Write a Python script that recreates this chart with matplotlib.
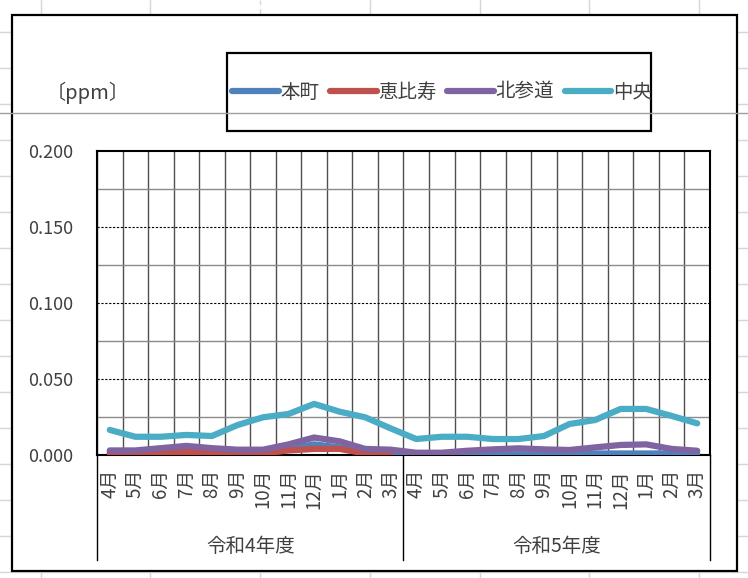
import numpy as np
import matplotlib.pyplot as plt
from matplotlib.lines import Line2D
from matplotlib.patches import Rectangle
import matplotlib.transforms as mtransforms

plt.rcParams['font.family'] = ['Noto Sans CJK JP', 'DejaVu Sans']

# ---------------- data ----------------
months = ['4月', '5月', '6月', '7月', '8月', '9月', '10月', '11月', '12月', '1月', '2月', '3月']
years = ['令和4年度', '令和5年度']
unit_label = '〔ppm〕'

honmachi = [0.002, 0.002, 0.002, 0.004, 0.002, 0.002, 0.002, 0.004, 0.007, 0.005, 0.002, 0.002,
            0.0005, 0.0005, 0.0005, 0.0005, 0.0005, 0.0005, 0.001, 0.001, 0.001, 0.001, 0.001, 0.001]
ebisu = [0.001, 0.001, 0.001, 0.002, 0.001, 0.001, 0.001, 0.003, 0.004, 0.004, 0.001, 0.001,
         np.nan, np.nan, np.nan, np.nan, np.nan, np.nan, np.nan, np.nan, np.nan, np.nan, np.nan, np.nan]
kitasando = [0.003, 0.003, 0.0045, 0.006, 0.0045, 0.0035, 0.0035, 0.007, 0.0115, 0.009, 0.004, 0.0035,
             0.0015, 0.0015, 0.0028, 0.0037, 0.0044, 0.0037, 0.0033, 0.005, 0.0066, 0.007, 0.004, 0.0028]
chuo = [0.0165, 0.012, 0.012, 0.0132, 0.0125, 0.0197, 0.0248, 0.027, 0.0336, 0.0285, 0.0248, 0.0175,
        0.0105, 0.012, 0.012, 0.0105, 0.0105, 0.0125, 0.0204, 0.023, 0.0303, 0.0303, 0.0257, 0.0208]

series_names = ['本町', '恵比寿', '北参道', '中央']
series_values = [honmachi, ebisu, kitasando, chuo]
series_colors = ['#4F81BD', '#C0504D', '#8064A2', '#4BACC6']

# ---------------- figure ----------------
W, H = 748, 578
fig = plt.figure(figsize=(W / 100, H / 100), dpi=100)
fig.patch.set_facecolor('white')


def fx(px):
    return px / W


def fy(py):
    return 1 - py / H


# spreadsheet background grid
for xs in [41, 150, 260, 370, 480, 589, 699]:
    fig.add_artist(Line2D([fx(xs)] * 2, [0, 1], color='#d6d6d6', lw=1,
                          ls=(0, (4, 3)) if xs == 260 else '-', zorder=0))
for ys in np.arange(32, 578, 36):
    fig.add_artist(Line2D([0, 1], [fy(ys)] * 2, color='#d6d6d6', lw=1, zorder=0))

# chart frame
fig.add_artist(Rectangle((fx(12), fy(571)), fx(737) - fx(12), fy(15) - fy(571),
                         facecolor='white', edgecolor='black', lw=1.6, zorder=1))

# plot area
ax = fig.add_axes([fx(97), fy(455), fx(710) - fx(97), fy(151) - fy(455)])
ax.set_zorder(2)
n = len(months) * len(years)
x = np.arange(n)

for b in np.arange(-0.5, n, 1.0):
    ax.axvline(b, color='#505050', lw=1, zorder=1)
for v in [0.025, 0.075, 0.125, 0.175]:
    ax.axhline(v, color='#8a8a8a', lw=1, zorder=1)
for v in [0.05, 0.10, 0.15]:
    ax.axhline(v, color='black', lw=0.8, ls=(0, (2, 1.5)), zorder=1)

lines = []
for name, vals, col in zip(series_names, series_values, series_colors):
    ln, = ax.plot(x, vals, color=col, lw=4.5, label=name, solid_joinstyle='round',
                  solid_capstyle='round', zorder=3)
    lines.append(ln)

ax.set_xlim(-0.5, n - 0.5)
ax.set_ylim(0, 0.2)
yt = np.arange(0, 0.2001, 0.05)
ax.set_yticks(yt, [f'{v:.3f}' for v in yt])
ax.set_xticks(x, months * len(years), rotation=90)
ax.tick_params(axis='y', length=0, pad=17, labelsize=13, labelcolor='#404040')
ax.tick_params(axis='x', length=0, pad=10, labelsize=13.5, labelcolor='#404040')
for s in ax.spines.values():
    s.set_color('black')
    s.set_linewidth(1.5)

blend = mtransforms.blended_transform_factory(ax.transData, ax.transAxes)
for i, yl in enumerate(years):
    ax.text(i * len(months) + (len(months) - 1) / 2, -0.30, yl, transform=blend,
            ha='center', va='center', fontsize=14, color='#404040')
for b in np.arange(-0.5, n, len(months)):
    ax.plot([b, b], [0, -0.345], transform=blend, color='black', lw=1, clip_on=False)

# unit label
fig.text(fx(46), fy(93), unit_label, ha='left', va='center', fontsize=14.5, color='#404040')

# legend box and legend
fig.add_artist(Rectangle((fx(227), fy(131)), fx(651) - fx(227), fy(53) - fy(131),
                         facecolor='white', edgecolor='black', lw=1.6, zorder=3))
leg = fig.legend(lines, series_names, loc='center', bbox_to_anchor=(fx(442), fy(92)),
                 ncol=4, frameon=False, fontsize=14, handlelength=2.4, handletextpad=0.08,
                 columnspacing=0.55, borderpad=0, labelcolor='#404040')
leg.set_zorder(4)

# freeze-pane line crossing the sheet
fig.add_artist(Line2D([0, 1], [fy(113)] * 2, color='#a0a0a0', lw=1, zorder=10))

fig.savefig('out.png', dpi=100)
